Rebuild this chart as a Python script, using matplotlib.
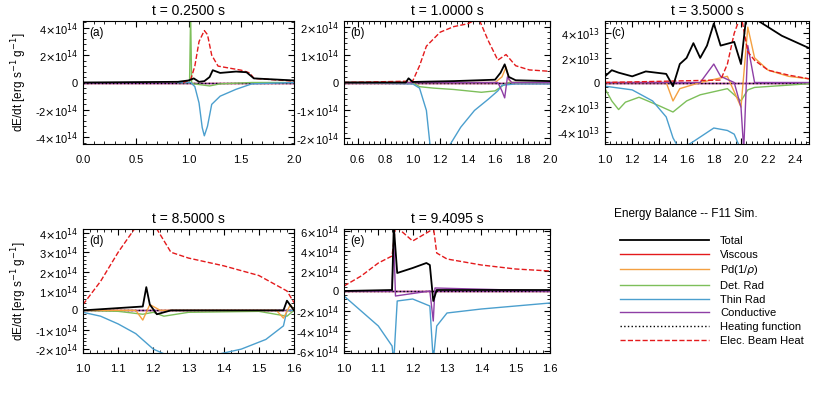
import numpy as np
import matplotlib.pyplot as plt
from matplotlib.lines import Line2D
from matplotlib.ticker import AutoMinorLocator

plt.rcParams['font.family'] = 'Liberation Sans'
plt.rcParams['font.size'] = 8

C_TOT = 'black'
C_VIS = '#e41a1c'
C_PD = '#f4a041'
C_DET = '#7dbf5a'
C_THIN = '#4b9fce'
C_CON = '#8e3fa5'

# ---- panel (a): t = 0.25 s, units 1e14
a_x_tot = [0, 0.9, 1.0, 1.05, 1.1, 1.15, 1.2, 1.23, 1.3, 1.45, 1.55, 1.62, 2.0]
a_y_tot = [0, 0.05, 0.15, 0.3, 0.05, 0.1, 0.4, 0.9, 0.7, 0.8, 0.75, 0.3, 0.15]
a_x_beam = [0.95, 1.02, 1.06, 1.1, 1.15, 1.18, 1.22, 1.28, 1.5, 1.58, 1.62, 2.0]
a_y_beam = [0, 0.2, 1.2, 3.0, 3.8, 3.5, 2.0, 1.2, 0.9, 0.7, 0.3, 0.1]
a_x_det = [0.9, 1.01, 1.02, 1.03, 1.05, 1.1, 1.2, 1.3, 1.6, 2.0]
a_y_det = [0, 0, 5.0, -0.05, -0.1, -0.15, -0.25, -0.1, 0, 0]
a_x_thin = [0.9, 1.02, 1.06, 1.1, 1.13, 1.15, 1.18, 1.22, 1.3, 1.45, 1.6, 2.0]
a_y_thin = [0, 0, -0.3, -1.5, -3.3, -3.9, -3.2, -1.6, -1.0, -0.5, -0.1, 0]

# ---- panel (b): t = 1.0 s, units 1e14
b_x_tot = [0.5, 0.95, 0.97, 1.0, 1.3, 1.6, 1.64, 1.67, 1.7, 1.75, 2.0]
b_y_tot = [0, 0, 0.15, 0.02, 0.05, 0.1, 0.35, 0.65, 0.2, 0.08, 0.05]
b_x_beam = [0.5, 1.0, 1.05, 1.1, 1.2, 1.3, 1.4, 1.48, 1.55, 1.62, 1.68, 1.75, 1.85, 2.0]
b_y_beam = [0, 0.05, 0.6, 1.3, 1.8, 2.0, 2.1, 2.3, 1.5, 0.8, 1.0, 0.6, 0.45, 0.4]
b_x_thin = [0.5, 1.0, 1.05, 1.1, 1.13, 1.25, 1.35, 1.45, 1.55, 1.62, 1.65, 1.75, 2.0]
b_y_thin = [0, -0.05, -0.2, -1.0, -2.4, -2.4, -1.6, -1.0, -0.6, -0.3, -0.1, -0.05, -0.05]
b_x_det = [0.5, 1.0, 1.05, 1.15, 1.3, 1.5, 1.6, 1.66, 1.7, 2.0]
b_y_det = [0, 0, -0.15, -0.2, -0.25, -0.35, -0.3, -0.1, 0, 0]
b_x_pd = [0.5, 1.6, 1.65, 1.68, 1.7, 1.72, 2.0]
b_y_pd = [0, 0, 0.2, 0.55, 0.1, 0, 0]
b_x_con = [0.5, 1.62, 1.65, 1.67, 1.69, 1.72, 2.0]
b_y_con = [0, 0, -0.3, -0.55, 0.2, 0, 0]

# ---- panel (c): t = 3.5 s, units 1e13
c_x_tot = [1.0, 1.05, 1.1, 1.2, 1.3, 1.45, 1.5, 1.55, 1.6, 1.65, 1.7, 1.75, 1.8, 1.85, 1.95, 2.0, 2.04, 2.1, 2.3, 2.5]
c_y_tot = [0.5, 1.0, 0.8, 0.5, 0.9, 0.7, -0.3, 1.5, 2.0, 3.2, 2.0, 3.0, 4.8, 3.0, 3.3, 1.5, 5.5, 5.2, 3.8, 2.8]
c_x_beam = [1.0, 1.85, 1.9, 1.95, 2.0, 2.05, 2.1, 2.2, 2.35, 2.5]
c_y_beam = [0, 0.2, 1.5, 4.0, 5.5, 2.5, 1.8, 1.0, 0.6, 0.3]
c_x_thin = [1.0, 1.2, 1.35, 1.45, 1.5, 1.55, 1.65, 1.8, 1.9, 1.95, 2.0]
c_y_thin = [-0.3, -0.6, -1.5, -2.8, -4.5, -5.5, -4.8, -3.7, -3.9, -4.2, -5.5]
c_x_det = [1.0, 1.05, 1.1, 1.15, 1.25, 1.4, 1.5, 1.6, 1.7, 1.9, 2.0, 2.05, 2.1, 2.5]
c_y_det = [-0.5, -1.5, -2.2, -1.6, -1.2, -1.9, -2.4, -1.5, -1.0, -0.5, -1.5, -0.6, -0.4, -0.1]
c_x_pd = [1.0, 1.45, 1.5, 1.55, 1.7, 1.9, 2.0, 2.05, 2.1, 2.2, 2.35, 2.5]
c_y_pd = [0, 0, -1.5, -0.5, 0, 0.5, -2.0, 4.5, 2.0, 1.0, 0.5, 0.3]
c_x_con = [1.0, 1.7, 1.8, 1.85, 1.95, 2.0, 2.02, 2.05, 2.1, 2.5]
c_y_con = [0, 0, 1.5, 0.5, 0, -2.0, -5.5, 3.0, 0, 0]

# ---- panel (d): t = 8.5 s, units 1e14
d_x_beam = [1.0, 1.05, 1.1, 1.15, 1.2, 1.25, 1.3, 1.4, 1.5, 1.55, 1.58, 1.6]
d_y_beam = [0.3, 1.5, 3.0, 4.3, 4.5, 3.0, 2.7, 2.3, 1.8, 1.3, 1.0, 0.4]
d_x_thin = [1.0, 1.05, 1.1, 1.15, 1.2, 1.25, 1.35, 1.45, 1.52, 1.57, 1.58, 1.6]
d_y_thin = [-0.1, -0.3, -0.7, -1.2, -2.0, -2.4, -2.4, -2.0, -1.5, -0.8, 0, 0]
d_x_tot = [1.0, 1.17, 1.18, 1.19, 1.21, 1.25, 1.57, 1.58, 1.6]
d_y_tot = [0, 0.2, 1.2, 0.3, -0.2, 0, 0, 0.5, 0]
d_x_det = [1.0, 1.1, 1.17, 1.2, 1.23, 1.3, 1.5, 1.58, 1.6]
d_y_det = [0, -0.05, -0.2, -0.1, -0.3, -0.1, -0.05, -0.3, 0]
d_x_pd = [1.0, 1.15, 1.17, 1.19, 1.22, 1.55, 1.57, 1.59, 1.6]
d_y_pd = [0, 0, -0.5, 0.3, 0, 0, -0.4, 0.3, 0]

# ---- panel (e): t = 9.4095 s, units 1e14
e_x_beam = [1.0, 1.05, 1.1, 1.14, 1.15, 1.2, 1.25, 1.26, 1.27, 1.3, 1.4, 1.5, 1.6]
e_y_beam = [0.5, 1.5, 2.8, 3.5, 6.5, 5.0, 6.0, 6.5, 3.8, 3.2, 2.6, 2.2, 2.0]
e_x_tot = [1.0, 1.14, 1.145, 1.155, 1.2, 1.24, 1.25, 1.26, 1.27, 1.6]
e_y_tot = [0, 0.1, 6.5, 1.8, 2.3, 2.8, 2.6, -1.0, 0.1, 0.1]
e_x_thin = [1.0, 1.05, 1.1, 1.14, 1.145, 1.155, 1.2, 1.25, 1.26, 1.27, 1.3, 1.4, 1.5, 1.6]
e_y_thin = [-0.5, -2.0, -3.5, -5.5, -7.0, -1.0, -0.8, -1.5, -7.0, -3.5, -2.2, -1.8, -1.5, -1.2]
e_x_con = [1.0, 1.14, 1.145, 1.15, 1.25, 1.26, 1.265, 1.6]
e_y_con = [0, 0, 5.0, -0.5, 0, -3.0, 0.3, 0]

fig = plt.figure(figsize=(8.3, 4.15), dpi=100)
W, H = 830., 415.


def make_ax(x0, x1, y0, y1):
    return fig.add_axes([x0 / W, 1 - y1 / H, (x1 - x0) / W, (y1 - y0) / H])


def style(ax, xlim, ylim, yticks, ylabels, xticks, title, tag, ylab=True):
    ax.set_xlim(xlim)
    ax.set_ylim(ylim)
    ax.set_yticks(yticks)
    ax.set_yticklabels(ylabels)
    ax.set_xticks(xticks)
    ax.set_xticklabels(['%.1f' % t for t in xticks])
    ax.xaxis.set_minor_locator(AutoMinorLocator(5))
    ax.yaxis.set_minor_locator(AutoMinorLocator(5))
    ax.tick_params(which='both', direction='in', top=True, right=True, labelsize=8)
    ax.tick_params(axis='x', pad=8)
    ax.tick_params(which='major', length=4)
    ax.tick_params(which='minor', length=2)
    ax.set_title(title, fontsize=10, pad=4)
    ax.text(0.03, 0.88, tag, transform=ax.transAxes, fontsize=8.5)
    if ylab:
        ax.set_ylabel('dE/dt [erg s$^{-1}$ g$^{-1}$]', fontsize=8.5)
    for s in ax.spines.values():
        s.set_linewidth(0.8)


def zero(ax, xlim, scale):
    ax.plot(xlim, [0, 0], color=C_VIS, lw=1)
    ax.plot(xlim, [0, 0], color=C_CON, lw=1)
    ax.plot(xlim, [0, 0], color='black', lw=1, ls=':')


def lab(n, e):
    return '0' if n == 0 else r'%d$\times$10$^{%d}$' % (n, e)


# (a)
ax = make_ax(83, 294, 21, 144)
s = 1e14
zero(ax, [0, 2], s)
ax.plot(a_x_det, np.array(a_y_det) * s, color=C_DET, lw=1)
ax.plot(a_x_thin, np.array(a_y_thin) * s, color=C_THIN, lw=1)
ax.plot(a_x_beam, np.array(a_y_beam) * s, color=C_VIS, lw=1, ls='--')
ax.plot(a_x_tot, np.array(a_y_tot) * s, color=C_TOT, lw=1.3)
yt = [-4, -2, 0, 2, 4]
style(ax, (0, 2), (-4.5e14, 4.5e14), np.array(yt) * s, [lab(v, 14) for v in yt],
      [0, 0.5, 1.0, 1.5, 2.0], 't = 0.2500 s', '(a)')

# (b)
ax = make_ax(344, 550, 21, 144)
zero(ax, [0.5, 2], s)
ax.plot(b_x_det, np.array(b_y_det) * s, color=C_DET, lw=1)
ax.plot(b_x_thin, np.array(b_y_thin) * s, color=C_THIN, lw=1)
ax.plot(b_x_pd, np.array(b_y_pd) * s, color=C_PD, lw=1)
ax.plot(b_x_con, np.array(b_y_con) * s, color=C_CON, lw=1)
ax.plot(b_x_beam, np.array(b_y_beam) * s, color=C_VIS, lw=1, ls='--')
ax.plot(b_x_tot, np.array(b_y_tot) * s, color=C_TOT, lw=1.3)
yt = [-2, -1, 0, 1, 2]
style(ax, (0.5, 2.0), (-2.2e14, 2.2e14), np.array(yt) * s, [lab(v, 14) for v in yt],
      [0.6, 0.8, 1.0, 1.2, 1.4, 1.6, 1.8, 2.0], 't = 1.0000 s', '(b)', ylab=False)

# (c)
ax = make_ax(605, 809, 21, 144)
s = 1e13
zero(ax, [1, 2.5], s)
ax.plot(c_x_det, np.array(c_y_det) * s, color=C_DET, lw=1)
ax.plot(c_x_thin, np.array(c_y_thin) * s, color=C_THIN, lw=1)
ax.plot(c_x_pd, np.array(c_y_pd) * s, color=C_PD, lw=1)
ax.plot(c_x_con, np.array(c_y_con) * s, color=C_CON, lw=1)
ax.plot(c_x_beam, np.array(c_y_beam) * s, color=C_VIS, lw=1, ls='--')
ax.plot(c_x_tot, np.array(c_y_tot) * s, color=C_TOT, lw=1.3)
yt = [-4, -2, 0, 2, 4]
style(ax, (1.0, 2.5), (-5e13, 5e13), np.array(yt) * s, [lab(v, 13) for v in yt],
      [1.0, 1.2, 1.4, 1.6, 1.8, 2.0, 2.2, 2.4], 't = 3.5000 s', '(c)', ylab=False)

# (d)
ax = make_ax(83, 294, 229, 353)
s = 1e14
zero(ax, [1, 1.6], s)
ax.plot(d_x_det, np.array(d_y_det) * s, color=C_DET, lw=1)
ax.plot(d_x_thin, np.array(d_y_thin) * s, color=C_THIN, lw=1)
ax.plot(d_x_pd, np.array(d_y_pd) * s, color=C_PD, lw=1)
ax.plot(d_x_beam, np.array(d_y_beam) * s, color=C_VIS, lw=1, ls='--')
ax.plot(d_x_tot, np.array(d_y_tot) * s, color=C_TOT, lw=1.3)
yt = [-2, -1, 0, 1, 2, 3, 4]
style(ax, (1.0, 1.6), (-2.2e14, 4.2e14), np.array(yt) * s, [lab(v, 14) for v in yt],
      [1.0, 1.1, 1.2, 1.3, 1.4, 1.5, 1.6], 't = 8.5000 s', '(d)')

# (e)
ax = make_ax(344, 550, 229, 353)
zero(ax, [1, 1.6], s)
ax.plot(e_x_thin, np.array(e_y_thin) * s, color=C_THIN, lw=1)
ax.plot(e_x_con, np.array(e_y_con) * s, color=C_CON, lw=1)
ax.plot(e_x_beam, np.array(e_y_beam) * s, color=C_VIS, lw=1, ls='--')
ax.plot(e_x_tot, np.array(e_y_tot) * s, color=C_TOT, lw=1.3)
yt = [-6, -4, -2, 0, 2, 4, 6]
style(ax, (1.0, 1.6), (-6.2e14, 6.2e14), np.array(yt) * s, [lab(v, 14) for v in yt],
      [1.0, 1.1, 1.2, 1.3, 1.4, 1.5, 1.6], 't = 9.4095 s', '(e)', ylab=False)

# legend
names = ['Total', 'Viscous', r'Pd(1/$\rho$)', 'Det. Rad', 'Thin Rad', 'Conductive',
         'Heating function', 'Elec. Beam Heat']
handles = [Line2D([], [], color=C_TOT, lw=1.3), Line2D([], [], color=C_VIS, lw=1),
           Line2D([], [], color=C_PD, lw=1), Line2D([], [], color=C_DET, lw=1),
           Line2D([], [], color=C_THIN, lw=1), Line2D([], [], color=C_CON, lw=1),
           Line2D([], [], color='black', lw=1, ls=':'),
           Line2D([], [], color=C_VIS, lw=1, ls='--')]
fig.text(686 / W, 1 - 214 / H, 'Energy Balance -- F11 Sim.', ha='center', va='center', fontsize=8.5)
fig.legend(handles, names, loc='upper left', bbox_to_anchor=(610 / W, 1 - 226 / H),
           frameon=False, fontsize=8, handlelength=8, labelspacing=0.33, handletextpad=1.0)

fig.savefig('out.png', dpi=100)
